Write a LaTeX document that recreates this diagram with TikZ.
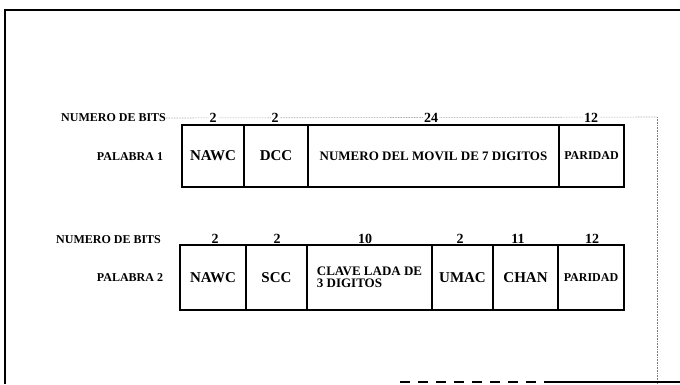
\documentclass[tikz,border=0pt]{standalone}
\usepackage{fontspec}
\setmainfont{Liberation Serif}
\begin{document}
\begin{tikzpicture}[x=1pt,y=-1pt,
  fld/.style={draw,line width=1.4pt,inner sep=0pt,font=\bfseries\fontsize{15}{15}\selectfont},
  bits/.style={font=\bfseries\fontsize{14}{14}\selectfont,inner sep=0pt},
  lbl/.style={font=\bfseries\fontsize{12}{12}\selectfont,inner sep=0pt},
  frame/.style={line width=1.6pt},
  guide/.style={gray,densely dotted,line width=0.6pt}]
\useasboundingbox (0,0) rectangle (680,384);
% frame
\coordinate (tl) at (5,10);
\coordinate (tr) at (680,10);
\coordinate (bl) at (5,384);
\draw[frame] (bl) -- (tl) -- (tr);
\coordinate (gr) at (657,117);
\coordinate (gb) at (657,384);
\draw[guide] (gr) -- (gb);
\coordinate (b1) at (400,382);
\coordinate (b2) at (550,382);
\coordinate (b3) at (680,382);
\draw[line width=1.4pt,dashed,dash pattern=on 10pt off 8pt] (b1) -- (b2);
\draw[line width=1.6pt] (b2) -- (b3);
% row 1
\node[lbl,anchor=west] (nb1) at (61,118) {NUMERO DE BITS};
\draw[guide] (nb1.east) -- (gr);
\node[bits,fill=white,inner sep=1pt] (n11) at (213,118) {2};
\node[bits,fill=white,inner sep=1pt] (n12) at (275,118) {2};
\node[bits,fill=white,inner sep=1pt] (n13) at (431,118) {24};
\node[bits,fill=white,inner sep=1pt] (n14) at (591,118) {12};
\node[lbl] (p1) at (130,157) {PALABRA 1};
\node[fld,minimum width=62pt,minimum height=62pt] (a1) at (213,156) {NAWC};
\node[fld,minimum width=64pt,minimum height=62pt] (a2) at (276,156) {DCC};
\node[fld,minimum width=251pt,minimum height=62pt,font=\bfseries\fontsize{13}{13}\selectfont] (a3) at (433.5,156) {NUMERO DEL MOVIL DE 7 DIGITOS};
\node[fld,minimum width=65pt,minimum height=62pt,font=\bfseries\fontsize{12}{12}\selectfont] (a4) at (591.5,156) {PARIDAD};
% row 2
\node[lbl,anchor=west] (nb2) at (56,240) {NUMERO DE BITS};
\node[bits] (c1) at (215,239) {2};
\node[bits] (c2) at (277,239) {2};
\node[bits] (c3) at (365,239) {10};
\node[bits] (c4) at (460,239) {2};
\node[bits] (c5) at (518,239) {11};
\node[bits] (c6) at (592,239) {12};
\node[lbl] (p2) at (130,278) {PALABRA 2};
\node[fld,minimum width=66pt,minimum height=65pt] (d1) at (213,277.5) {NAWC};
\node[fld,minimum width=61pt,minimum height=65pt] (d2) at (276.5,277.5) {SCC};
\node[fld,minimum width=125pt,minimum height=65pt,align=left,font=\bfseries\fontsize{13}{12.5}\selectfont] (d3) at (369.5,277.5) {CLAVE LADA DE\\3 DIGITOS};
\node[fld,minimum width=61pt,minimum height=65pt] (d4) at (462.5,277.5) {UMAC};
\node[fld,minimum width=65pt,minimum height=65pt] (d5) at (525.5,277.5) {CHAN};
\node[fld,minimum width=66pt,minimum height=65pt,font=\bfseries\fontsize{12}{12}\selectfont] (d6) at (591,277.5) {PARIDAD};
\end{tikzpicture}
\end{document}
